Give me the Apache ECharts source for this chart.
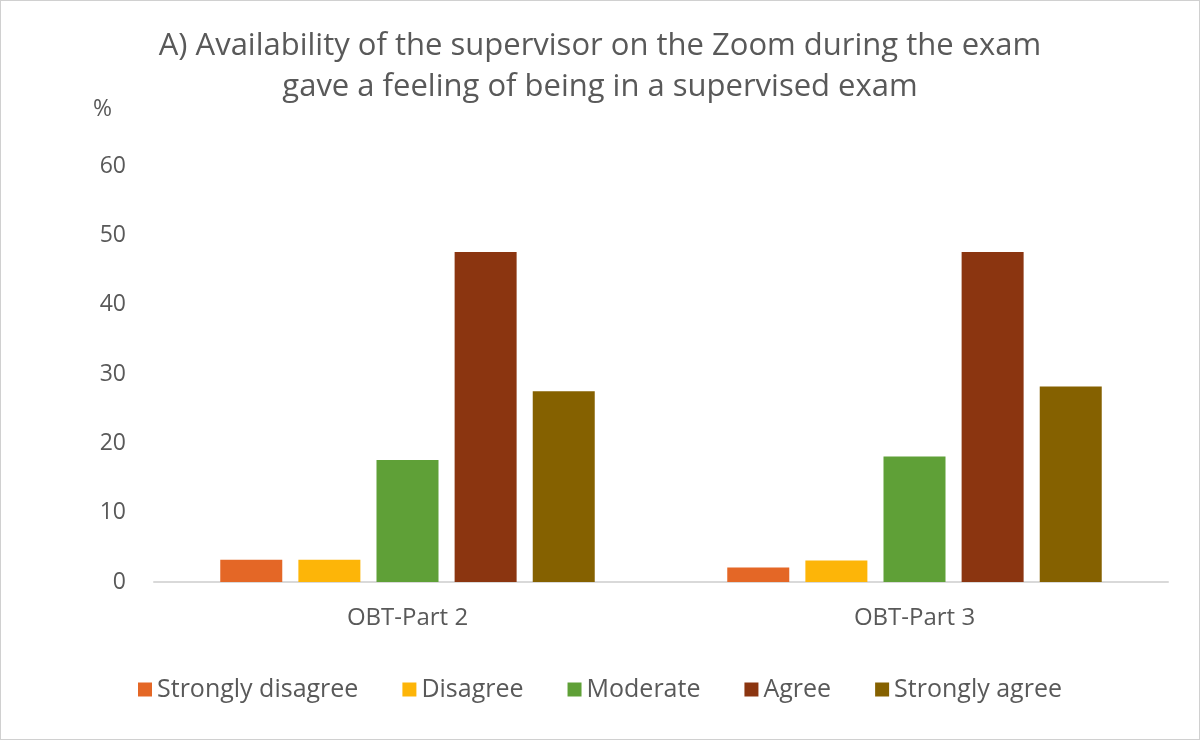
<!DOCTYPE html>
<html>
<head>
<meta charset="utf-8">
<script src="https://cdn.jsdelivr.net/npm/echarts@6/dist/echarts.min.js"></script>
<style>
  html, body { margin: 0; padding: 0; background: #fff; }
  #chart { width: 1198px; height: 738px; border: 1px solid #d0d0d0; }
</style>
</head>
<body>
<div id="chart"></div>
<script>
const categories = ['OBT-Part 2', 'OBT-Part 3'];
const stronglyDisagree = [3.2, 2.1];
const disagree = [3.2, 3.1];
const moderate = [17.6, 18.1];
const agree = [47.6, 47.6];
const stronglyAgree = [27.5, 28.2];

const names = ['Strongly disagree', 'Disagree', 'Moderate', 'Agree', 'Strongly agree'];
const values = [stronglyDisagree, disagree, moderate, agree, stronglyAgree];
const colors = ['#e46726', '#fdb508', '#5fa037', '#8b3510', '#856100'];

const font = '"Open Sans", "Noto Sans", sans-serif';

const chart = echarts.init(document.getElementById('chart'));

chart.setOption({
  textStyle: { fontFamily: font },
  title: {
    text: 'A) Availability of the supervisor on the Zoom during the exam\ngave a feeling of being in a supervised exam',
    left: 'center',
    top: 20,
    textStyle: { color: '#595959', fontSize: 31, fontWeight: 'normal', lineHeight: 41, fontFamily: font }
  },
  legend: {
    bottom: 32,
    left: 'center',
    itemWidth: 14,
    itemHeight: 14,
    itemGap: 44,
    icon: 'rect',
    textStyle: { color: '#595959', fontSize: 25, fontFamily: font }
  },
  grid: { left: 153, right: 31, top: 165, bottom: 157 },
  xAxis: {
    type: 'category',
    data: categories,
    axisLine: { lineStyle: { color: '#d9d9d9', width: 2 } },
    axisTick: { show: false },
    axisLabel: { color: '#595959', fontSize: 24, margin: 24, fontFamily: font }
  },
  yAxis: {
    type: 'value',
    name: '%',
    nameLocation: 'end',
    nameGap: 45,
    nameTextStyle: { color: '#595959', fontSize: 23, align: 'right', padding: [0, 42, 0, 0] },
    min: 0,
    max: 60,
    interval: 10,
    splitLine: { show: false },
    axisLine: { show: false },
    axisLabel: { color: '#595959', fontSize: 23, margin: 28, fontFamily: font }
  },
  series: names.map((n, i) => ({
    name: n,
    type: 'bar',
    data: values[i],
    barWidth: 62,
    barGap: '26%',
    itemStyle: { color: colors[i] }
  }))
});
</script>
</body>
</html>
